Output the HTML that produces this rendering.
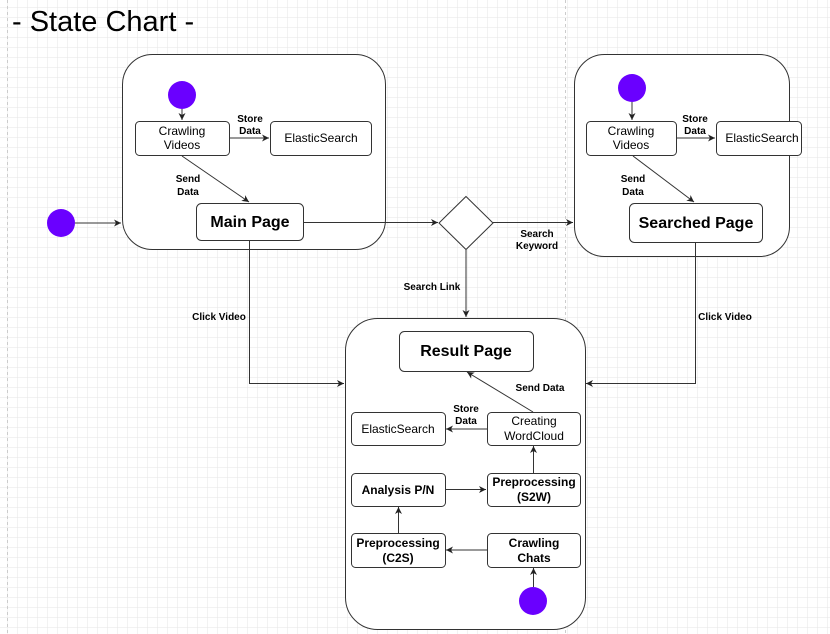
<!DOCTYPE html>
<html><head><meta charset="utf-8"><style>
html,body{margin:0;padding:0;background:#fff;}
svg{display:block;font-family:"Liberation Sans",Arial,sans-serif;}
.b{fill:#fff;stroke:#333;stroke-width:1}
.l{stroke:#333;stroke-width:1;fill:none}
.t{font-size:12px;text-anchor:middle;fill:#000}
.s{font-size:10px;font-weight:bold;text-anchor:middle;fill:#000}
.bt{font-size:16px;font-weight:bold;text-anchor:middle;fill:#000}
</style></head><body>
<svg width="830" height="634" viewBox="0 0 830 634" xmlns="http://www.w3.org/2000/svg">
<defs>
<pattern id="g" width="10" height="10" patternUnits="userSpaceOnUse" x="7" y="7">
<path d="M0 0H10M0 0V10" stroke="#e6e6e6" stroke-width="1" fill="none"/>
</pattern>
<marker id="a" markerWidth="8" markerHeight="8" refX="7" refY="4" orient="auto" markerUnits="userSpaceOnUse">
<path d="M0,0.5 L7,4 L0,7.5 L2,4 z" fill="#222"/>
</marker>
</defs>
<rect width="830" height="634" fill="#fff"/>
<rect width="830" height="634" fill="url(#g)"/>
<line x1="7.5" y1="0" x2="7.5" y2="634" stroke="#ccc" stroke-dasharray="3,3"/>
<line x1="565.5" y1="0" x2="565.5" y2="634" stroke="#ccc" stroke-dasharray="3,3"/>
<text x="12" y="31" font-size="29" fill="#000">- State Chart -</text>

<!-- container 1 -->
<rect class="b" x="122.5" y="54.5" width="263" height="195" rx="30"/>
<circle cx="182" cy="95" r="14" fill="#6a00ff"/>
<line class="l" x1="182" y1="109" x2="182" y2="120" marker-end="url(#a)"/>
<rect class="b" x="135.5" y="121.5" width="94" height="34" rx="4"/>
<text class="t" x="182" y="135">Crawling</text><text class="t" x="182" y="149">Videos</text>
<rect class="b" x="270.5" y="121.5" width="101" height="34" rx="4"/>
<text class="t" x="321" y="142">ElasticSearch</text>
<line class="l" x1="230" y1="138" x2="269" y2="138" marker-end="url(#a)"/>
<text class="s" x="250" y="122">Store</text><text class="s" x="250" y="134">Data</text>
<line class="l" x1="182" y1="156" x2="249" y2="202" marker-end="url(#a)"/>
<text class="s" x="188" y="182">Send</text><text class="s" x="188" y="195">Data</text>
<rect class="b" x="196.5" y="203.5" width="107" height="37" rx="5"/>
<text class="bt" x="250" y="227">Main Page</text>
<circle cx="61" cy="223" r="14" fill="#6a00ff"/>
<line class="l" x1="75" y1="223" x2="121" y2="223" marker-end="url(#a)"/>

<!-- diamond -->
<path class="b" d="M466 196.5 L493 223 L466 249.5 L439 223 Z"/>
<line class="l" x1="304" y1="222.5" x2="438" y2="222.5" marker-end="url(#a)"/>
<line class="l" x1="493" y1="222.5" x2="573" y2="222.5" marker-end="url(#a)"/>
<text class="s" x="537" y="237">Search</text><text class="s" x="537" y="249">Keyword</text>
<line class="l" x1="466" y1="250" x2="466" y2="317" marker-end="url(#a)"/>
<text class="s" x="432" y="290">Search Link</text>

<!-- container 2 -->
<rect class="b" x="574.5" y="54.5" width="215" height="202" rx="30"/>
<circle cx="632" cy="88" r="14" fill="#6a00ff"/>
<line class="l" x1="632" y1="102" x2="632" y2="120" marker-end="url(#a)"/>
<rect class="b" x="586.5" y="121.5" width="90" height="34" rx="4"/>
<text class="t" x="631" y="135">Crawling</text><text class="t" x="631" y="149">Videos</text>
<rect class="b" x="716.5" y="121.5" width="85" height="34" rx="4"/>
<text class="t" x="762" y="142">ElasticSearch</text>
<line class="l" x1="677" y1="138" x2="715" y2="138" marker-end="url(#a)"/>
<text class="s" x="695" y="122">Store</text><text class="s" x="695" y="134">Data</text>
<line class="l" x1="633" y1="156" x2="694" y2="202" marker-end="url(#a)"/>
<text class="s" x="633" y="182">Send</text><text class="s" x="633" y="195">Data</text>
<rect class="b" x="629.5" y="203.5" width="133" height="39" rx="5"/>
<text class="bt" x="696" y="228">Searched Page</text>

<!-- connectors to result -->
<path class="l" d="M249.5 241 V383.5 H344" marker-end="url(#a)"/>
<text class="s" x="219" y="320">Click Video</text>
<path class="l" d="M695.5 243 V383.5 H586" marker-end="url(#a)"/>
<text class="s" x="725" y="320">Click Video</text>

<!-- container 3 -->
<rect class="b" x="345.5" y="318.5" width="240" height="311" rx="32"/>
<rect class="b" x="399.5" y="331.5" width="134" height="40" rx="5"/>
<text class="bt" x="466" y="356">Result Page</text>
<line class="l" x1="533" y1="412" x2="467" y2="372" marker-end="url(#a)"/>
<text class="s" x="540" y="391">Send Data</text>
<rect class="b" x="351.5" y="412.5" width="94" height="33" rx="4"/>
<text class="t" x="398" y="433">ElasticSearch</text>
<rect class="b" x="487.5" y="412.5" width="93" height="33" rx="4"/>
<text class="t" x="534" y="425">Creating</text><text class="t" x="534" y="440">WordCloud</text>
<line class="l" x1="487" y1="429" x2="446" y2="429" marker-end="url(#a)"/>
<text class="s" x="466" y="412">Store</text><text class="s" x="466" y="424">Data</text>
<rect class="b" x="351.5" y="473.5" width="94" height="33" rx="4"/>
<text class="t" x="398" y="494" font-weight="bold">Analysis P/N</text>
<rect class="b" x="487.5" y="473.5" width="93" height="33" rx="4"/>
<text class="t" x="534" y="486" font-weight="bold">Preprocessing</text><text class="t" x="534" y="501" font-weight="bold">(S2W)</text>
<line class="l" x1="446" y1="489.5" x2="486" y2="489.5" marker-end="url(#a)"/>
<line class="l" x1="533.5" y1="473" x2="533.5" y2="446" marker-end="url(#a)"/>
<rect class="b" x="351.5" y="533.5" width="94" height="34" rx="4"/>
<text class="t" x="398" y="547" font-weight="bold">Preprocessing</text><text class="t" x="398" y="562" font-weight="bold">(C2S)</text>
<rect class="b" x="487.5" y="533.5" width="93" height="34" rx="4"/>
<text class="t" x="534" y="547" font-weight="bold">Crawling</text><text class="t" x="534" y="562" font-weight="bold">Chats</text>
<line class="l" x1="487" y1="550" x2="446" y2="550" marker-end="url(#a)"/>
<line class="l" x1="398.5" y1="533" x2="398.5" y2="507" marker-end="url(#a)"/>
<circle cx="533" cy="601" r="14" fill="#6a00ff"/>
<line class="l" x1="533.5" y1="587" x2="533.5" y2="568" marker-end="url(#a)"/>
</svg>
</body></html>
